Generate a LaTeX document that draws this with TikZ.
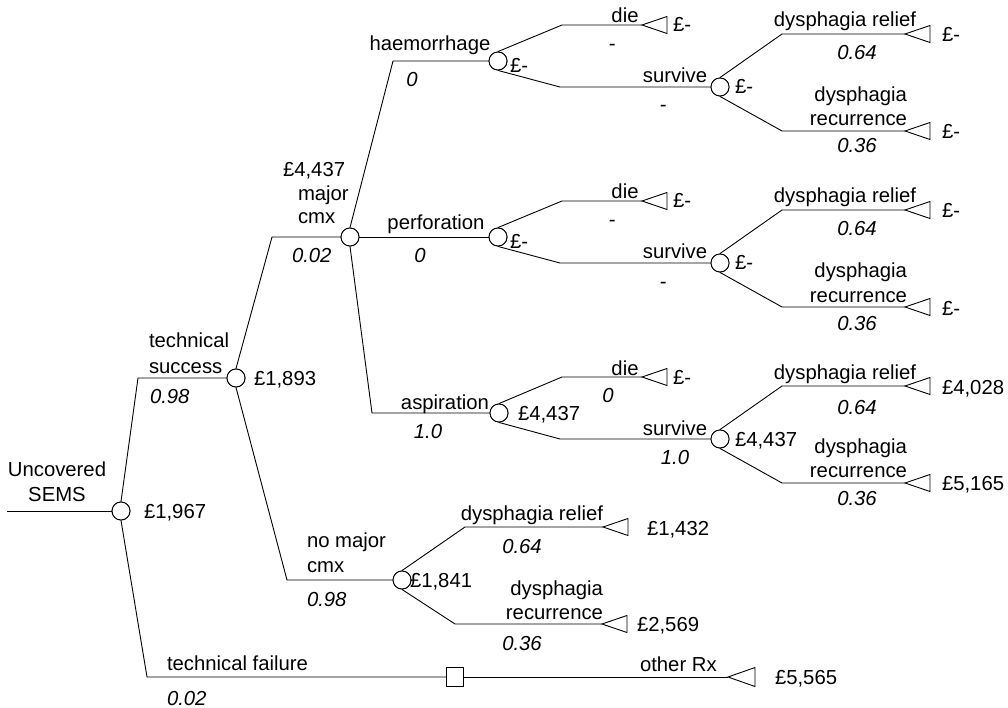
\documentclass[tikz,border=0pt]{standalone}
\usepackage{fontspec}
\setmainfont{Liberation Sans}
\begin{document}
\begin{tikzpicture}[x=1pt,y=-1pt,
  lbl/.style={font=\fontsize{20.3}{24}\selectfont, inner sep=0pt, outer sep=0pt},
  prob/.style={font=\fontsize{20.3}{24}\selectfont\itshape, inner sep=0pt, outer sep=0pt},
  chance/.style={circle, draw, fill=white, minimum size=18pt, inner sep=0pt, line width=0.9pt},
  decision/.style={rectangle, draw, fill=white, minimum width=17pt, minimum height=19pt, inner sep=0pt, line width=0.9pt},
  edge/.style={line width=0.9pt},
  term/.style={draw, fill=white, line width=0.9pt, line join=miter}]
\useasboundingbox (0,0) rectangle (1008,708);

% ---------- nodes ----------
\coordinate (start) at (7,511);
\node[chance] (root) at (121,511) {};
\node[chance] (ts) at (236,378) {};
\node[chance] (mc) at (350,237) {};
\node[chance] (nm) at (402,580) {};
\node[decision] (tf) at (455,677) {};
% haemorrhage
\node[chance] (hm) at (498,61) {};
\node[chance] (hs) at (720,87) {};
\coordinate (hd) at (642,25);
\coordinate (hrel) at (905,34);
\coordinate (hrec) at (905,131);
% perforation
\node[chance] (pf) at (498,237) {};
\node[chance] (ps) at (720,263) {};
\coordinate (pd) at (642,201);
\coordinate (prel) at (905,210);
\coordinate (prec) at (905,307);
% aspiration
\node[chance] (as) at (499,413) {};
\node[chance] (ass) at (720,439) {};
\coordinate (ad) at (642,377);
\coordinate (arel) at (905,386);
\coordinate (arec) at (905,483);
% no major cmx
\coordinate (nrel) at (603,527);
\coordinate (nrec) at (602,624);
% technical failure
\coordinate (tfo) at (728,677);

% ---------- connectors ----------
\draw[edge] (start) -- (root);
\draw[edge] (root.north) -- (138,378) -- (ts);
\draw[edge] (root.south) -- (147,677) -- (tf);
\draw[edge] (ts.north) -- (272,237) -- (mc);
\draw[edge] (ts.south) -- (287,580) -- (nm);
\draw[edge] (mc.north) -- (393,61) -- (hm);
\draw[edge] (mc) -- (pf);
\draw[edge] (mc.south) -- (372,413) -- (as);
\draw[edge] (hm.north) -- (562,25) -- (hd);
\draw[edge] (hm.south) -- (560,87) -- (hs);
\draw[edge] (hs.north) -- (782,34) -- (hrel);
\draw[edge] (hs.south) -- (782,131) -- (hrec);
\draw[edge] (pf.north) -- (562,201) -- (pd);
\draw[edge] (pf.south) -- (560,263) -- (ps);
\draw[edge] (ps.north) -- (782,210) -- (prel);
\draw[edge] (ps.south) -- (782,307) -- (prec);
\draw[edge] (as.north) -- (562,377) -- (ad);
\draw[edge] (as.south) -- (560,439) -- (ass);
\draw[edge] (ass.north) -- (782,386) -- (arel);
\draw[edge] (ass.south) -- (782,483) -- (arec);
\draw[edge] (nm.north) -- (465,527) -- (nrel);
\draw[edge] (nm.south) -- (455,624) -- (nrec);
\draw[edge] (tf) -- (tfo);

% redraw the nodes on top of the connectors
\foreach \n in {root,ts,mc,nm,hm,hs,pf,ps,as,ass}
  \node[chance] at (\n) {};
\node[decision] at (tf) {};

% terminal triangles
\foreach \t in {hd,hrel,hrec,pd,prel,prec,ad,arel,arec,nrel,nrec}
  \draw[term] (\t) -- ++(25,-8.5) -- ++(0,17) -- cycle;
\draw[term] (tfo) -- ++(27,-9.5) -- ++(0,19) -- cycle;

% ---------- labels ----------
% root
\node[lbl, anchor=base] (l1) at (57,476) {Uncovered};
\node[lbl, anchor=base] (l2) at (57,501) {SEMS};
\node[lbl, anchor=base west] (v1) at (144,518) {£1,967};
% technical success
\node[lbl, anchor=base west] (l3) at (149,347) {technical};
\node[lbl, anchor=base west] (l4) at (149,373) {success};
\node[prob, anchor=base west] (p1) at (150,403) {0.98};
\node[lbl, anchor=base west] (v2) at (254,385) {£1,893};
% major cmx
\node[lbl, anchor=base west] (v3) at (283,177) {£4,437};
\node[lbl, anchor=base west] (l5) at (298,201) {major};
\node[lbl, anchor=base west] (l6) at (298,224) {cmx};
\node[prob, anchor=base west] (p2) at (292,263) {0.02};
% haemorrhage
\node[lbl, anchor=base] (l7) at (430,51) {haemorrhage};
\node[prob, anchor=base] (p3) at (412,87) {0};
\node[lbl, anchor=base west] (v4) at (510,73) {£-};
\node[lbl, anchor=base] (l8) at (625,23) {die};
\node[prob, anchor=base] (p4) at (612,51) {-};
\node[lbl, anchor=base west] (v5) at (673,32) {£-};
\node[lbl, anchor=base] (l9) at (675,83) {survive};
\node[prob, anchor=base] (p5) at (663,112) {-};
\node[lbl, anchor=base west] (v6) at (735,94) {£-};
\node[lbl, anchor=base] (l10) at (845,27) {dysphagia relief};
\node[prob, anchor=base] (p6) at (857,60) {0.64};
\node[lbl, anchor=base west] (v7) at (942,42) {£-};
\node[lbl, anchor=base east] (l11) at (907,102) {dysphagia};
\node[lbl, anchor=base east] (l12) at (907,126) {recurrence};
\node[prob, anchor=base] (p7) at (857,153) {0.36};
\node[lbl, anchor=base west] (v8) at (942,139) {£-};
% perforation
\node[lbl, anchor=base] (l13) at (436,230) {perforation};
\node[prob, anchor=base] (p8) at (420,263) {0};
\node[lbl, anchor=base west] (v9) at (510,249) {£-};
\node[lbl, anchor=base] (l14) at (625,199) {die};
\node[prob, anchor=base] (p9) at (612,227) {-};
\node[lbl, anchor=base west] (v10) at (673,208) {£-};
\node[lbl, anchor=base] (l15) at (675,259) {survive};
\node[prob, anchor=base] (p10) at (663,288) {-};
\node[lbl, anchor=base west] (v11) at (735,270) {£-};
\node[lbl, anchor=base] (l16) at (845,203) {dysphagia relief};
\node[prob, anchor=base] (p11) at (857,236) {0.64};
\node[lbl, anchor=base west] (v12) at (942,218) {£-};
\node[lbl, anchor=base east] (l17) at (907,278) {dysphagia};
\node[lbl, anchor=base east] (l18) at (907,302) {recurrence};
\node[prob, anchor=base] (p12) at (857,330) {0.36};
\node[lbl, anchor=base west] (v13) at (942,315) {£-};
% aspiration
\node[lbl, anchor=base] (l19) at (445,409) {aspiration};
\node[prob, anchor=base] (p13) at (428,438) {1.0};
\node[lbl, anchor=base west] (v14) at (518,420) {£4,437};
\node[lbl, anchor=base] (l20) at (625,375) {die};
\node[prob, anchor=base] (p14) at (608,402) {0};
\node[lbl, anchor=base west] (v15) at (673,384) {£-};
\node[lbl, anchor=base] (l21) at (675,435) {survive};
\node[prob, anchor=base] (p15) at (675,464) {1.0};
\node[lbl, anchor=base west] (v16) at (735,446) {£4,437};
\node[lbl, anchor=base] (l22) at (845,379) {dysphagia relief};
\node[prob, anchor=base] (p16) at (857,414) {0.64};
\node[lbl, anchor=base west] (v17) at (942,394) {£4,028};
\node[lbl, anchor=base east] (l23) at (907,453) {dysphagia};
\node[lbl, anchor=base east] (l24) at (907,477) {recurrence};
\node[prob, anchor=base] (p17) at (857,505) {0.36};
\node[lbl, anchor=base west] (v18) at (942,490) {£5,165};
% no major cmx
\node[lbl, anchor=base west] (l25) at (307,547) {no major};
\node[lbl, anchor=base west] (l26) at (307,572) {cmx};
\node[prob, anchor=base west] (p18) at (307,606) {0.98};
\node[lbl, anchor=base west] (v19) at (410,587) {£1,841};
\node[lbl, anchor=base east] (l27) at (603,520) {dysphagia relief};
\node[prob, anchor=base] (p19) at (522,553) {0.64};
\node[lbl, anchor=base west] (v20) at (647,535) {£1,432};
\node[lbl, anchor=base east] (l28) at (603,595) {dysphagia};
\node[lbl, anchor=base east] (l29) at (603,619) {recurrence};
\node[prob, anchor=base] (p20) at (522,650) {0.36};
\node[lbl, anchor=base west] (v21) at (637,631) {£2,569};
% technical failure
\node[lbl, anchor=base west] (l30) at (167,670) {technical failure};
\node[prob, anchor=base west] (p21) at (167,705) {0.02};
\node[lbl, anchor=base west] (l31) at (640,671) {other Rx};
\node[lbl, anchor=base west] (v22) at (775,684) {£5,565};
\end{tikzpicture}
\end{document}
